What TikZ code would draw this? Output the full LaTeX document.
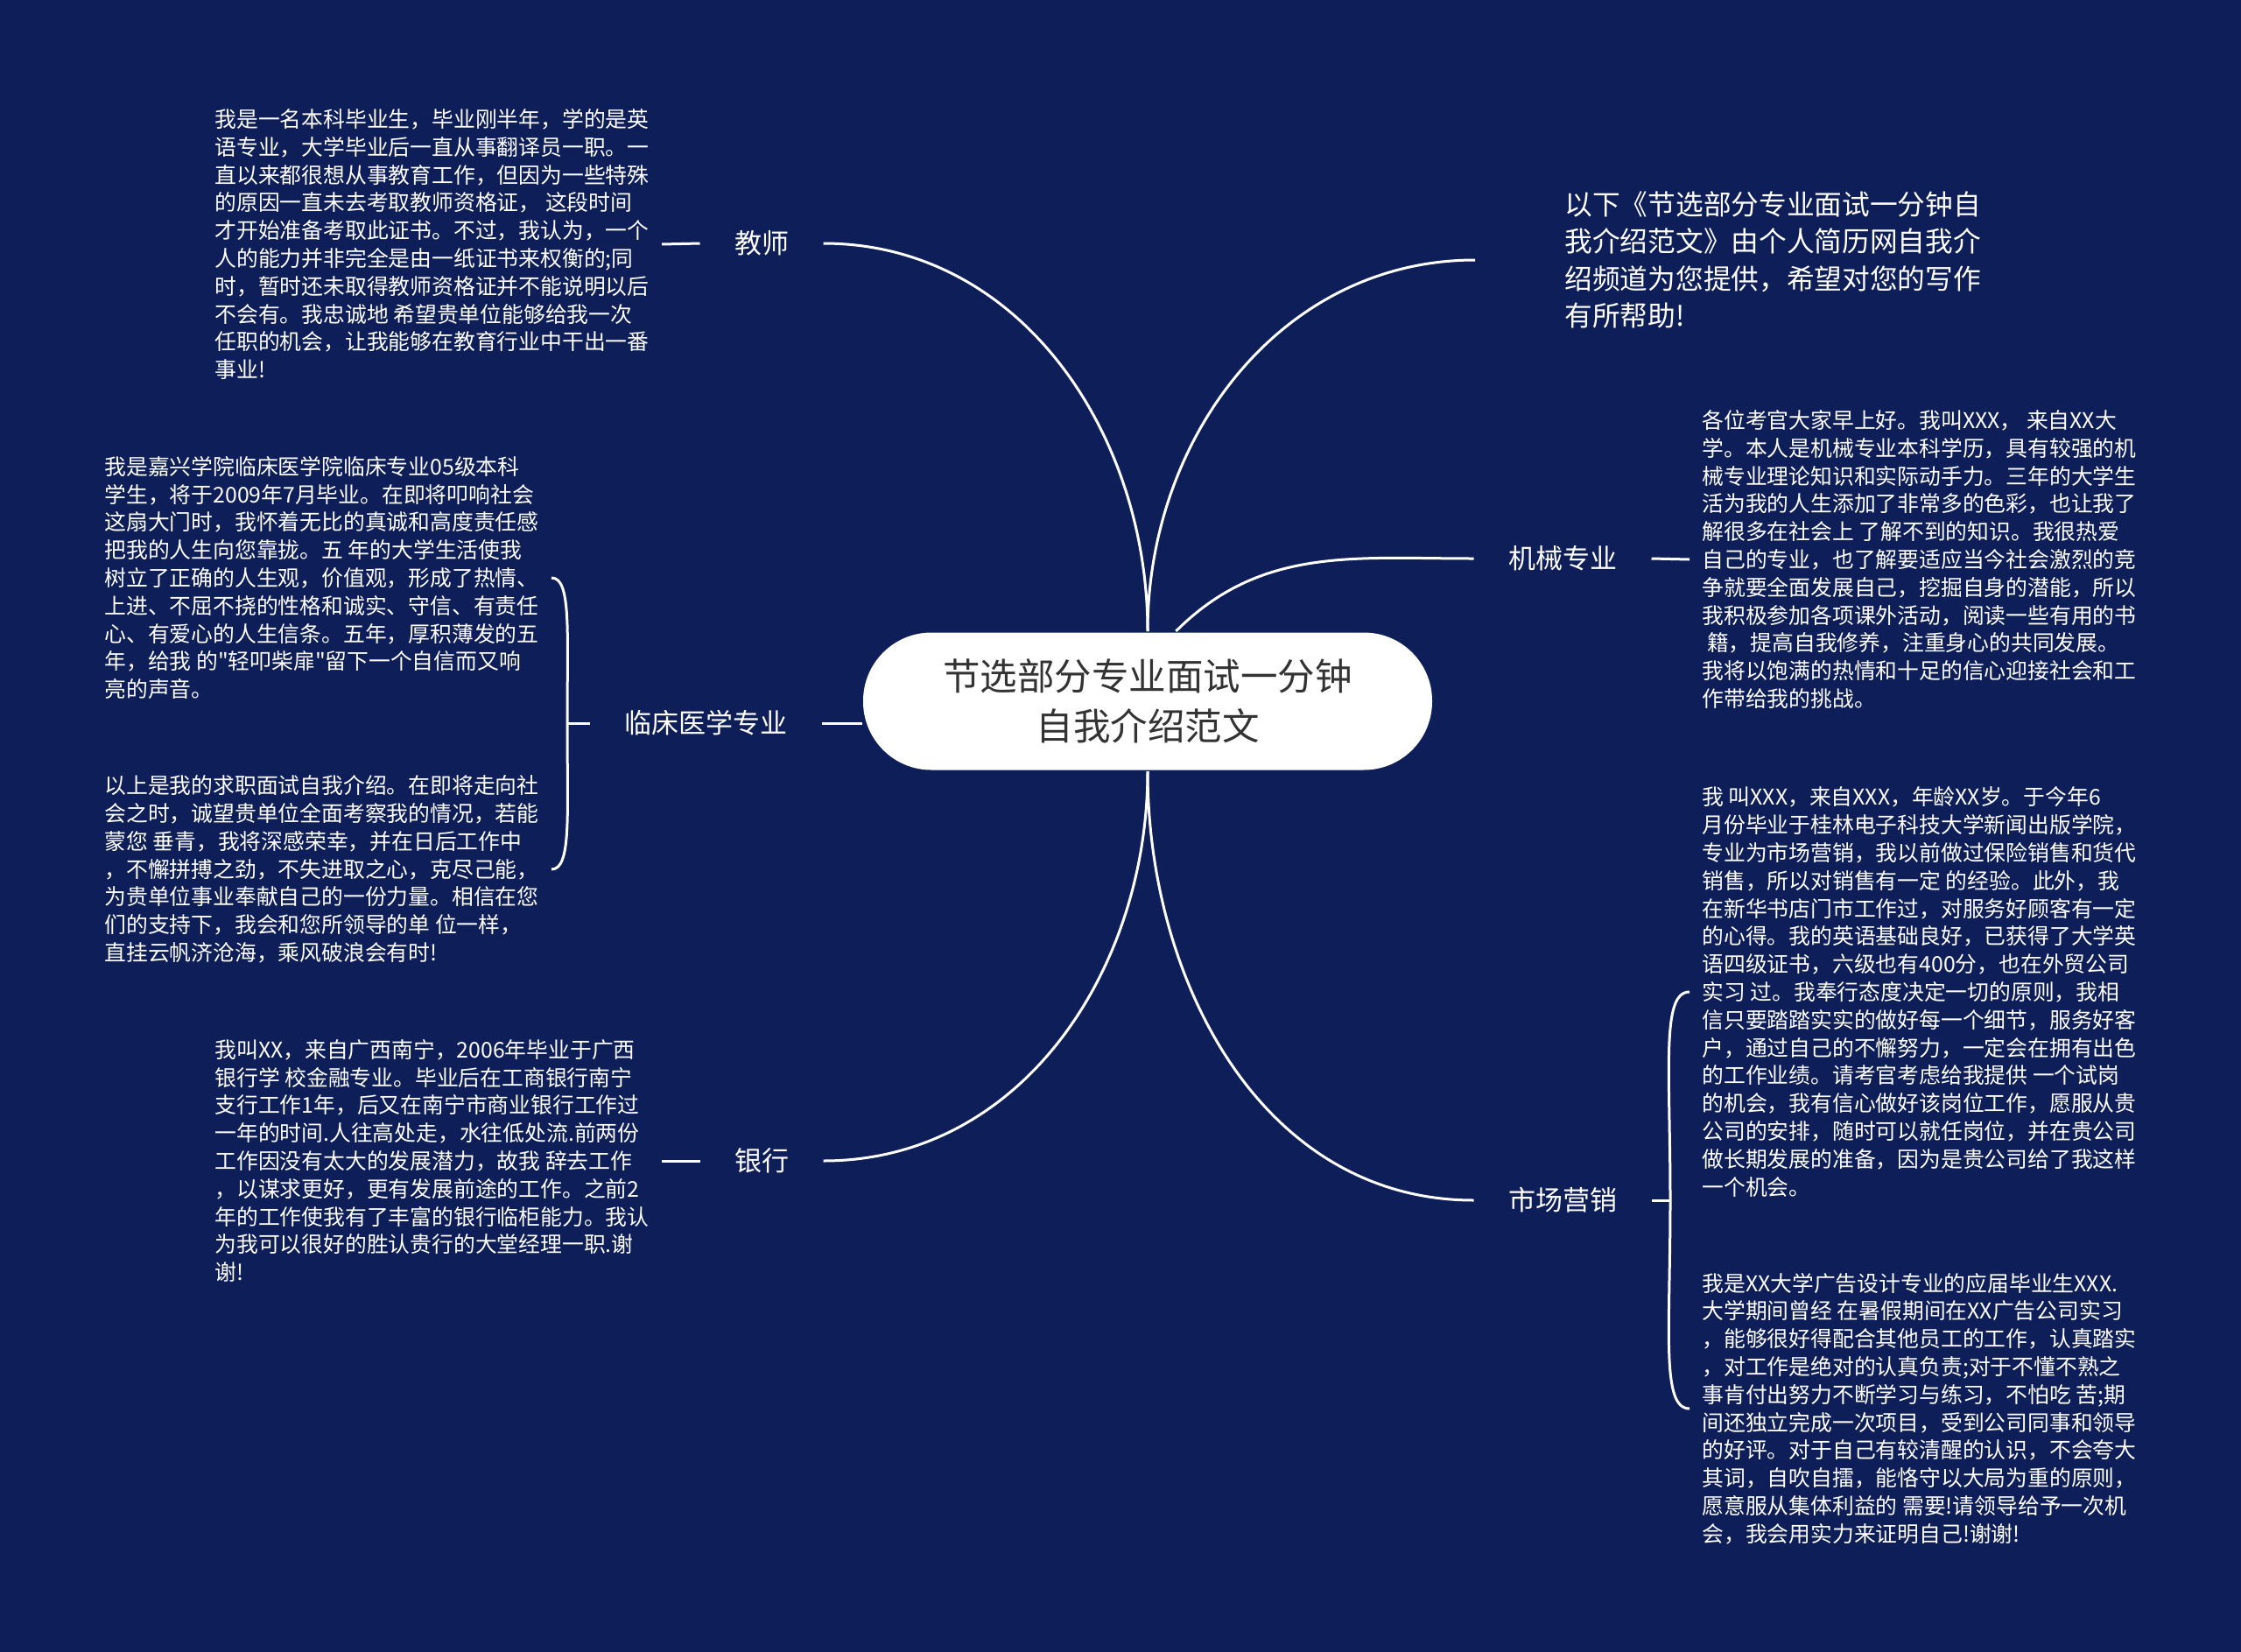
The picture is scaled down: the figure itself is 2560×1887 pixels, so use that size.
\documentclass[tikz,border=0pt]{standalone}
\usepackage{fontspec}
\newfontfamily\cjk{Noto Sans CJK SC}
\definecolor{bgnavy}{RGB}{14,30,88}
\definecolor{inkgray}{RGB}{51,51,51}
\begin{document}
\cjk
\begin{tikzpicture}[x=1pt, y=-1pt, white, line width=3pt,
  leaf/.style={align=left, inner xsep=13pt, font=\fontsize{24.8}{31.8}\selectfont},
  topic/.style={inner xsep=38pt, font=\fontsize{31}{36}\selectfont},
  curl/.style={out looseness=1.6, in looseness=.35}]
\fill[bgnavy] (0,0) rectangle (2560,1887);
\node[fill=white, text=inkgray, rounded corners=78pt, minimum width=650pt, minimum height=157pt,
  align=center, font=\fontsize{42.5}{57}\selectfont] (root) at (1311,801) {节选部分专业面试一分钟\\自我介绍范文};
\node[topic] (teacher) at (870,278) {教师};
\node[topic] (med) at (806,826) {临床医学专业};
\node[topic] (bank) at (870,1326) {银行};
\node[topic] (mech) at (1785,638) {机械专业};
\node[topic] (mkt) at (1785,1371) {市场营销};
\node[align=left, anchor=west, inner xsep=101pt, font=\fontsize{31.7}{42.5}\selectfont] (intro) at (1685,297)
  {以下《节选部分专业面试一分钟自\\我介绍范文》由个人简历网自我介\\绍频道为您提供，希望对您的写作\\有所帮助!};
\node[leaf, anchor=east] (teach1) at (756,279) {我是一名本科毕业生，毕业刚半年，学的是英\\语专业，大学毕业后一直从事翻译员一职。一\\直以来都很想从事教育工作，但因为一些特殊\\的原因一直未去考取教师资格证， 这段时间\\才开始准备考取此证书。不过，我认为，一个\\人的能力并非完全是由一纸证书来权衡的;同\\时，暂时还未取得教师资格证并不能说明以后\\不会有。我忠诚地 希望贵单位能够给我一次\\任职的机会，让我能够在教育行业中干出一番\\事业!};
\node[leaf, anchor=east] (med1) at (630,660) {我是嘉兴学院临床医学院临床专业05级本科\\学生，将于2009年7月毕业。在即将叩响社会\\这扇大门时，我怀着无比的真诚和高度责任感\\把我的人生向您靠拢。五 年的大学生活使我\\树立了正确的人生观，价值观，形成了热情、\\上进、不屈不挠的性格和诚实、守信、有责任\\心、有爱心的人生信条。五年，厚积薄发的五\\年，给我 的"轻叩柴扉"留下一个自信而又响\\亮的声音。};
\node[leaf, anchor=east] (med2) at (630,993) {以上是我的求职面试自我介绍。在即将走向社\\会之时，诚望贵单位全面考察我的情况，若能\\蒙您 垂青，我将深感荣幸，并在日后工作中\\，不懈拼搏之劲，不失进取之心，克尽己能，\\为贵单位事业奉献自己的一份力量。相信在您\\们的支持下，我会和您所领导的单 位一样，\\直挂云帆济沧海，乘风破浪会有时!};
\node[leaf, anchor=east] (bank1) at (756,1326) {我叫XX，来自广西南宁，2006年毕业于广西\\银行学 校金融专业。毕业后在工商银行南宁\\支行工作1年，后又在南宁市商业银行工作过\\一年的时间.人往高处走，水往低处流.前两份\\工作因没有太大的发展潜力，故我 辞去工作\\，以谋求更好，更有发展前途的工作。之前2\\年的工作使我有了丰富的银行临柜能力。我认\\为我可以很好的胜认贵行的大堂经理一职.谢\\谢!};
\node[leaf, anchor=west] (mech1) at (1930,639) {各位考官大家早上好。我叫XXX， 来自XX大\\学。本人是机械专业本科学历，具有较强的机\\械专业理论知识和实际动手力。三年的大学生\\活为我的人生添加了非常多的色彩，也让我了\\解很多在社会上 了解不到的知识。我很热爱\\自己的专业，也了解要适应当今社会激烈的竞\\争就要全面发展自己，挖掘自身的潜能，所以\\我积极参加各项课外活动，阅读一些有用的书\\\ 籍，提高自我修养，注重身心的共同发展。\\我将以饱满的热情和十足的信心迎接社会和工\\作带给我的挑战。};
\node[leaf, anchor=west] (mkt1) at (1930,1133) {我 叫XXX，来自XXX，年龄XX岁。于今年6\\月份毕业于桂林电子科技大学新闻出版学院，\\专业为市场营销，我以前做过保险销售和货代\\销售，所以对销售有一定 的经验。此外，我\\在新华书店门市工作过，对服务好顾客有一定\\的心得。我的英语基础良好，已获得了大学英\\语四级证书，六级也有400分，也在外贸公司\\实习 过。我奉行态度决定一切的原则，我相\\信只要踏踏实实的做好每一个细节，服务好客\\户，通过自己的不懈努力，一定会在拥有出色\\的工作业绩。请考官考虑给我提供 一个试岗\\的机会，我有信心做好该岗位工作，愿服从贵\\公司的安排，随时可以就任岗位，并在贵公司\\做长期发展的准备，因为是贵公司给了我这样\\一个机会。};
\node[leaf, anchor=west] (mkt2) at (1930,1609) {我是XX大学广告设计专业的应届毕业生XXX.\\大学期间曾经 在暑假期间在XX广告公司实习\\，能够很好得配合其他员工的工作，认真踏实\\，对工作是绝对的认真负责;对于不懂不熟之\\事肯付出努力不断学习与练习，不怕吃 苦;期\\间还独立完成一次项目，受到公司同事和领导\\的好评。对于自己有较清醒的认识，不会夸大\\其词，自吹自擂，能恪守以大局为重的原则，\\愿意服从集体利益的 需要!请领导给予一次机\\会，我会用实力来证明自己!谢谢!};
\coordinate (medk) at (648,826);
\coordinate (mktk) at (1908,1371);
\draw (teacher.east) to[out=0,in=90] (root.north);
\draw (intro.west) to[out=180,in=90] (root.north);
\draw (root.68) to[out=45,in=180] (mech.west);
\draw (med.east) -- (root.west |- med.east);
\draw (bank.east) to[out=0,in=-90] (root.south);
\draw (root.south) to[out=-90,in=180] (mkt.west);
\draw (teach1.east) -- (teacher.west);
\draw (bank1.east) -- (bank.west);
\draw (mech.east) -- (mech1.west);
\draw (medk) -- (med.west);
\draw (medk) to[out=90,in=0,curl] (med1.east) (medk) to[out=-90,in=0,curl] (med2.east);
\draw (mkt.east) -- (mktk);
\draw (mktk) to[out=90,in=180,curl] (mkt1.west) (mktk) to[out=-90,in=180,curl] (mkt2.west);
\end{tikzpicture}
\end{document}
